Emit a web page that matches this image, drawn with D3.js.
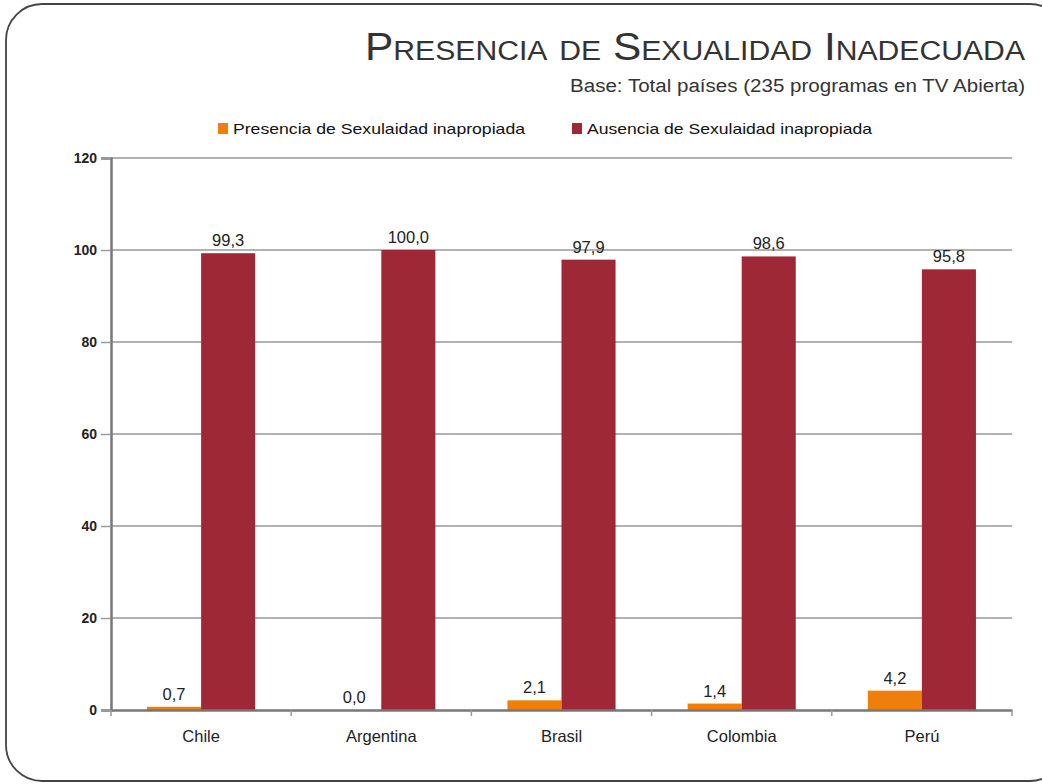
<html>
  <head>
    <meta charset="utf-8">
    <title>Presencia de Sexualidad Inadecuada</title>
    <style>
    body{
      margin: 0;
      background-color: #fff;
    }
    text{
      font-family: "Liberation Sans", Arial, sans-serif;
    }
    </style>
    <script src="https://d3js.org/d3.v7.min.js"></script>
  </head>
  <body>
    <div id="container"></div>
    <script>
    //chart data
    var paises = ["Chile", "Argentina", "Brasil", "Colombia", "Perú"];
    var presencia = [0.7, 0.0, 2.1, 1.4, 4.2];
    var ausencia = [99.3, 100.0, 97.9, 98.6, 95.8];
    var series = ["Presencia de Sexulaidad inapropiada", "Ausencia de Sexulaidad inapropiada"];
    var colores = ["#ee7f0c", "#9e2836"];
    var yTicks = [0, 20, 40, 60, 80, 100, 120];

    const width = 1042,
          height = 784;

    //plot area (not "top": that name is taken by window.top)
    var plotLeft = 111, plotRight = 1012, plotTop = 158, plotBottom = 710;

    var svg = d3.select("#container")
      .append("svg")
      .attr("width", width)
      .attr("height", height);

    //rounded frame
    svg.append("rect")
      .attr("x", 6)
      .attr("y", 4)
      .attr("width", 1060)
      .attr("height", 777)
      .attr("rx", 36)
      .attr("fill", "none")
      .attr("stroke", "#444")
      .attr("stroke-width", 1.8);

    //titles
    svg.append("text")
      .attr("x", 1025)
      .attr("y", 60)
      .attr("text-anchor", "end")
      .attr("textLength", 660)
      .attr("lengthAdjust", "spacingAndGlyphs")
      .style("font-size", "38px")
      .style("font-variant", "small-caps")
      .attr("fill", "#333")
      .text("Presencia de Sexualidad Inadecuada");

    svg.append("text")
      .attr("x", 1025)
      .attr("y", 92)
      .attr("text-anchor", "end")
      .attr("textLength", 455)
      .attr("lengthAdjust", "spacingAndGlyphs")
      .style("font-size", "18px")
      .attr("fill", "#333")
      .text("Base: Total países (235 programas en TV Abierta)");

    //legend
    var legendX = [218, 572];
    var legendW = [292, 285];
    var legend = svg.selectAll(".legend")
      .data(series)
      .enter()
      .append("g")
      .attr("transform", function(d, i) { return "translate(" + legendX[i] + ",123)"; });
    legend.append("rect")
      .attr("width", 10)
      .attr("height", 11)
      .attr("fill", function(d, i) { return colores[i]; });
    legend.append("text")
      .attr("x", 15)
      .attr("y", 11)
      .attr("textLength", function(d, i) { return legendW[i]; })
      .attr("lengthAdjust", "spacingAndGlyphs")
      .style("font-size", "15px")
      .attr("fill", "#111")
      .text(function(d) { return d; });

    //scales
    var x = d3.scaleBand()
      .domain(paises)
      .range([plotLeft, plotRight])
      .paddingInner(0)
      .paddingOuter(0);

    //two bars per country, 54px each with 36px free on both sides
    var x1 = d3.scaleBand()
      .domain([0, 1])
      .range([0, x.bandwidth()])
      .paddingOuter(0.667)
      .paddingInner(0);

    var y = d3.scaleLinear()
      .domain([0, 120])
      .range([plotBottom, plotTop]);

    //gridlines
    svg.append("g")
      .selectAll("line")
      .data(yTicks.slice(1))
      .enter()
      .append("line")
      .attr("x1", plotLeft)
      .attr("x2", plotRight)
      .attr("y1", function(d) { return y(d); })
      .attr("y2", function(d) { return y(d); })
      .attr("stroke", "#999")
      .attr("stroke-width", 1.5);

    //y axis
    var yAxis = svg.append("g")
      .attr("transform", "translate(" + plotLeft + ",0)")
      .call(d3.axisLeft(y).tickValues(yTicks).tickSize(10).tickPadding(4));
    yAxis.select(".domain").attr("stroke", "#777").attr("stroke-width", 2.5);
    yAxis.selectAll(".tick line").attr("stroke", "#999").attr("stroke-width", 1.5);
    yAxis.selectAll("text")
      .style("font-size", "14px")
      .style("font-weight", "bold")
      .attr("fill", "#222");

    //bars
    var groups = svg.selectAll(".pais")
      .data(paises)
      .enter()
      .append("g")
      .attr("transform", function(d) { return "translate(" + x(d) + ",0)"; });

    var vals = function(d, i) { return [presencia[i], ausencia[i]]; };

    groups.selectAll("rect")
      .data(vals)
      .enter()
      .append("rect")
      .attr("x", function(d, j) { return x1(j); })
      .attr("y", function(d) { return y(d); })
      .attr("width", x1.bandwidth())
      .attr("height", function(d) { return plotBottom - y(d); })
      .attr("fill", function(d, j) { return colores[j]; });

    groups.selectAll(".lbl")
      .data(vals)
      .enter()
      .append("text")
      .attr("x", function(d, j) { return x1(j) + x1.bandwidth() / 2; })
      .attr("y", function(d) { return y(d) - 7; })
      .attr("text-anchor", "middle")
      .style("font-size", "16.5px")
      .attr("fill", "#222")
      .text(function(d) { return d.toFixed(1).replace(".", ","); });

    //x axis
    var xAxis = svg.append("g")
      .attr("transform", "translate(0," + plotBottom + ")")
      .call(d3.axisBottom(x).tickSize(0).tickPadding(20));
    xAxis.select(".domain").attr("stroke", "#777").attr("stroke-width", 2.5);
    xAxis.selectAll("text")
      .style("font-size", "16.5px")
      .attr("fill", "#222");

    //category separators
    var seps = paises.map(function(d) { return x(d); }).concat([plotRight]);
    svg.append("g")
      .selectAll("line")
      .data(seps)
      .enter()
      .append("line")
      .attr("x1", function(d) { return d; })
      .attr("x2", function(d) { return d; })
      .attr("y1", plotBottom)
      .attr("y2", plotBottom + 6)
      .attr("stroke", "#999")
      .attr("stroke-width", 1.5);
    </script>
  </body>
</html>
